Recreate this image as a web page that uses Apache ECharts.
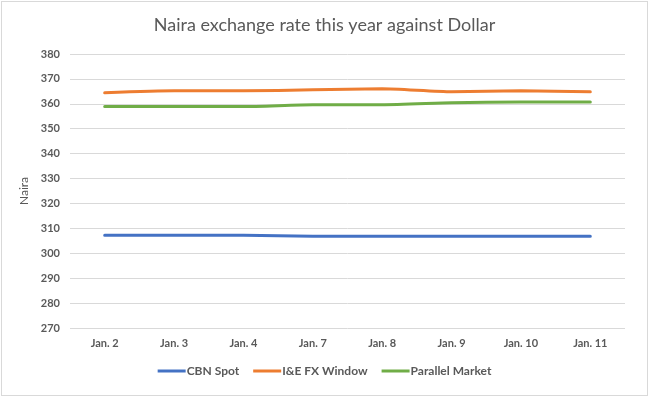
<!DOCTYPE html>
<html>
<head>
<meta charset="utf-8">
<script src="https://cdn.jsdelivr.net/npm/echarts@6/dist/echarts.min.js"></script>
<style>
  html, body { margin: 0; padding: 0; background: #fff; }
  #chart { position: absolute; left: 1px; top: 1px; width: 645px; height: 393px; border: 1px solid #d9d9d9; }
</style>
</head>
<body>
<div id="chart"></div>
<script>
var days = ['Jan. 2', 'Jan. 3', 'Jan. 4', 'Jan. 7', 'Jan. 8', 'Jan. 9', 'Jan. 10', 'Jan. 11'];
var cbnSpot = [307.2, 307.2, 307.2, 306.8, 306.8, 306.8, 306.8, 306.8];
var ieWindow = [364.4, 365.2, 365.2, 365.6, 366.0, 364.8, 365.2, 364.8];
var parallel = [358.9, 358.9, 358.9, 359.6, 359.6, 360.4, 360.7, 360.7];

var chartDom = document.getElementById('chart');
var myChart = echarts.init(chartDom);
var option;

var font = 'Lato, "Open Sans", sans-serif';

function line (name, data, color) {
  return {
    name: name,
    type: 'line',
    data: data,
    smooth: 0.2,
    symbol: 'none',
    lineStyle: { color: color, width: 3, cap: 'round' },
    itemStyle: { color: color }
  };
}

option = {
  animation: false,
  textStyle: { fontFamily: font },
  title: {
    text: 'Naira exchange rate this year against Dollar',
    left: 'center',
    top: 9,
    textStyle: { fontFamily: font, fontSize: 18, fontWeight: 'normal', color: '#595959' }
  },
  legend: {
    bottom: 13,
    left: 'center',
    itemWidth: 28,
    itemHeight: 3,
    itemGap: 14,
    icon: 'rect',
    textStyle: { fontFamily: font, fontSize: 12, fontWeight: 'bold', color: '#595959', padding: [0, 0, 0, -4] },
    data: ['CBN Spot', 'I&E FX Window', 'Parallel Market']
  },
  grid: { left: 68, right: 22, top: 52, bottom: 67 },
  xAxis: {
    type: 'category',
    data: days,
    axisLine: { show: false },
    axisTick: { show: false },
    axisLabel: { fontFamily: font, fontSize: 11, fontWeight: 'bold', color: '#595959', margin: 10 }
  },
  yAxis: {
    type: 'value',
    min: 270,
    max: 380,
    interval: 10,
    name: 'Naira',
    nameLocation: 'middle',
    nameGap: 24,
    nameTextStyle: { fontFamily: font, fontSize: 12, color: '#595959' },
    axisLine: { show: false },
    axisTick: { show: false },
    axisLabel: { fontFamily: font, fontSize: 11, fontWeight: 'bold', color: '#595959', margin: 10 },
    splitLine: { lineStyle: { color: '#d9d9d9', width: 1 } }
  },
  series: [
    line('CBN Spot', cbnSpot, '#4472c4'),
    line('I&E FX Window', ieWindow, '#ed7d31'),
    line('Parallel Market', parallel, '#70ad47')
  ]
};

option && myChart.setOption(option);
</script>
</body>
</html>
